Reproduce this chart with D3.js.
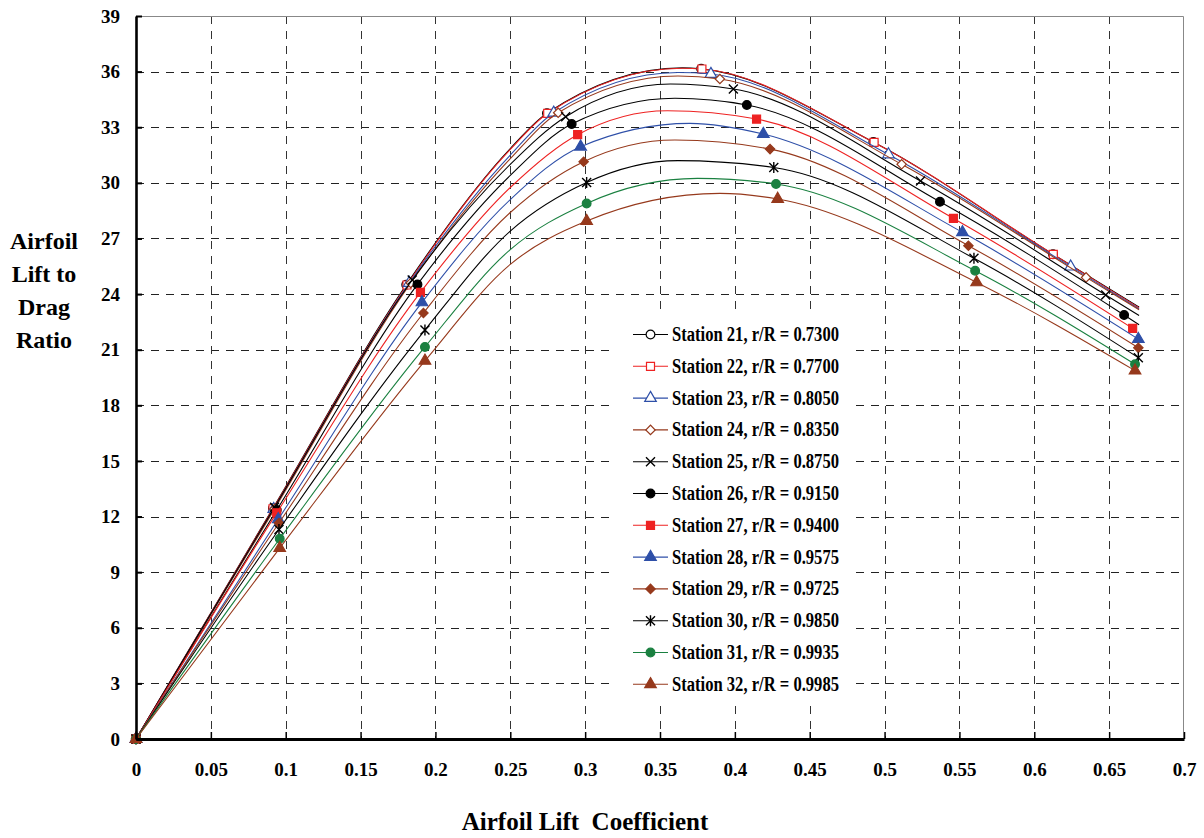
<!DOCTYPE html>
<html lang="en">
<head>
<meta charset="utf-8">
<style type="text/css">
    body { margin: 0; background: #fff; }
    .tick_text { font-family: "Times New Roman", "Liberation Serif", serif; font-weight: bold; font-size: 19px; fill: #000; }
    .title_text { font-family: "Times New Roman", "Liberation Serif", serif; font-weight: bold; font-size: 24px; fill: #000; }
    .legend_text { font-family: "Times New Roman", "Liberation Serif", serif; font-weight: bold; font-size: 20px; fill: #000; }
</style>
</head>
<body>
<div id="chart"></div>
<script src="https://cdn.jsdelivr.net/npm/d3@7"></script>
<script type="text/javascript">
// stations shown in the legend
var stations = ["Station 21, r/R = 0.7300", "Station 22, r/R = 0.7700", "Station 23, r/R = 0.8050",
    "Station 24, r/R = 0.8350", "Station 25, r/R = 0.8750", "Station 26, r/R = 0.9150",
    "Station 27, r/R = 0.9400", "Station 28, r/R = 0.9575", "Station 29, r/R = 0.9725",
    "Station 30, r/R = 0.9850", "Station 31, r/R = 0.9935", "Station 32, r/R = 0.9985"];

// marked points: lift coefficient (x) and lift to drag ratio (y)
var markCl = [
    [0, 0.0915, 0.1805, 0.2745, 0.3775, 0.4925, 0.6125],
    [0, 0.0915, 0.181, 0.275, 0.378, 0.493, 0.6127],
    [0, 0.092, 0.1825, 0.279, 0.384, 0.5026, 0.6243],
    [0, 0.0925, 0.1835, 0.282, 0.39, 0.5114, 0.6346],
    [0, 0.0925, 0.1845, 0.287, 0.399, 0.524, 0.6477],
    [0, 0.094, 0.188, 0.291, 0.408, 0.537, 0.66],
    [0, 0.094, 0.19, 0.295, 0.4145, 0.546, 0.6657],
    [0, 0.095, 0.191, 0.297, 0.419, 0.552, 0.6695],
    [0, 0.0955, 0.192, 0.299, 0.4235, 0.556, 0.6695],
    [0, 0.0955, 0.193, 0.301, 0.426, 0.5597, 0.6695],
    [0, 0.096, 0.193, 0.301, 0.4275, 0.5605, 0.6673],
    [0, 0.096, 0.193, 0.301, 0.4286, 0.5615, 0.6673]];
var markLd = [
    [0, 12.45, 24.5, 33.75, 36.15, 32.2, 26.15],
    [0, 12.42, 24.49, 33.75, 36.14, 32.18, 26.14],
    [0, 12.4, 24.6, 33.78, 35.87, 31.53, 25.48],
    [0, 12.4, 24.6, 33.78, 35.6, 31.0, 24.9],
    [0, 12.5, 24.76, 33.57, 35.06, 30.1, 23.95],
    [0, 12.35, 24.52, 33.17, 34.2, 28.98, 22.87],
    [0, 12.2, 24.09, 32.6, 33.44, 28.08, 22.15],
    [0, 11.85, 23.55, 31.95, 32.63, 27.33, 21.57],
    [0, 11.65, 22.98, 31.14, 31.82, 26.61, 21.1],
    [0, 11.3, 22.06, 30.02, 30.83, 25.93, 20.57],
    [0, 10.8, 21.15, 28.89, 29.94, 25.26, 20.21],
    [0, 10.3, 20.4, 27.94, 29.13, 24.63, 19.87]];

// unmarked points on the curves (mid rise, peak, end)
var curveCl = [
    [0.25, 0.365, 0.67], [0.25, 0.365, 0.67], [0.25, 0.362, 0.67], [0.25, 0.362, 0.67],
    [0.25, 0.357, 0.67], [0.25, 0.36, 0.67], [0.25, 0.355], [0.25, 0.37],
    [0.25, 0.36], [0.25, 0.362], [0.25, 0.375], [0.25, 0.39]];
var curveLd = [
    [31.85, 36.2, 23.3], [31.8, 36.18, 23.25], [31.5, 35.95, 23.2], [31.3, 35.76, 23.15],
    [31.0, 35.33, 22.84], [30.4, 34.56, 22.35], [29.75, 33.89], [29.1, 33.21],
    [28.4, 32.31], [27.4, 31.2], [26.4, 30.24], [25.6, 29.43]];

var xTicks = [0, 0.05, 0.1, 0.15, 0.2, 0.25, 0.3, 0.35, 0.4, 0.45, 0.5, 0.55, 0.6, 0.65, 0.7];
var yTicks = [0, 3, 6, 9, 12, 15, 18, 21, 24, 27, 30, 33, 36, 39];

var colors = ["#000000", "#EE2222", "#2E4FA8", "#96391C", "#000000", "#000000",
    "#EE2222", "#2E4FA8", "#96391C", "#000000", "#1A8040", "#96391C"];
var shapes = ["circle", "square", "triangle", "diamond", "x", "circle",
    "square", "triangle", "diamond", "star", "circle", "triangle"];
var hollow = [true, true, true, true, false, false, false, false, false, false, false, false];

var W = 1204, H = 838;
var plotL = 136, plotR = 1184, plotT = 16, plotB = 739;

var svg = d3.select("#chart").append("svg")
    .attr("width", W).attr("height", H);

var x = d3.scaleLinear().domain([0, 0.7]).range([plotL, plotR]);
var y = d3.scaleLinear().domain([0, 39]).range([plotB, plotT]);

// grid
svg.append("g").selectAll("line")
    .data(yTicks.filter(function(d){ return d > 0 && d < 39; }))
    .enter().append("line")
    .attr("x1", plotL).attr("x2", plotR)
    .attr("y1", function(d){ return Math.round(y(d)) + 0.5; }).attr("y2", function(d){ return Math.round(y(d)) + 0.5; })
    .attr("stroke", "#222").attr("stroke-dasharray", "8,7");
svg.append("g").selectAll("line")
    .data(xTicks.filter(function(d){ return d > 0 && d < 0.7; }))
    .enter().append("line")
    .attr("y1", plotT).attr("y2", plotB)
    .attr("x1", function(d){ return Math.round(x(d)) + 0.5; }).attr("x2", function(d){ return Math.round(x(d)) + 0.5; })
    .attr("stroke", "#333").attr("stroke-dasharray", "8,7");
// top and right border
svg.append("path")
    .attr("d", "M" + plotL + "," + (plotT + 0.5) + "H" + (plotR - 0.5) + "V" + plotB)
    .attr("fill", "none").attr("stroke", "#888").attr("stroke-width", 1);

// legend background hides the grid
var legX = 612, legY = 314;
svg.append("rect").attr("x", legX).attr("y", legY).attr("width", 243).attr("height", 392)
    .attr("fill", "#fff");

function markerPath(shape) {
    if (shape == "circle") return d3.symbol(d3.symbolCircle, 60)();
    if (shape == "square") return d3.symbol(d3.symbolSquare, 64)();
    if (shape == "triangle") return d3.symbol(d3.symbolTriangle, 58)();
    if (shape == "diamond") return d3.symbol(d3.symbolSquare, 44)();
    var r = 4.5;
    if (shape == "x") return "M" + -r + "," + -r + "L" + r + "," + r + "M" + -r + "," + r + "L" + r + "," + -r;
    // star
    return "M" + -r + "," + -r + "L" + r + "," + r + "M" + -r + "," + r + "L" + r + "," + -r + "M0," + -5.5 + "L0,5.5";
}

function drawMarker(g, i) {
    var s = shapes[i];
    var p = g.append("path")
        .attr("d", markerPath(s))
        .attr("stroke", colors[i])
        .attr("stroke-width", s == "x" || s == "star" ? 1.4 : 1.2);
    if (s == "diamond") p.attr("transform", "rotate(45)");
    if (s == "x" || s == "star") p.attr("fill", "none");
    else p.attr("fill", hollow[i] ? "#fff" : colors[i]);
    return p;
}

var line = d3.line()
    .x(function(d){ return x(d[0]); })
    .y(function(d){ return y(d[1]); })
    .curve(d3.curveMonotoneX);

stations.forEach(function(name, i) {
    var pts = [];
    markCl[i].forEach(function(c, j){ pts.push([c, markLd[i][j]]); });
    curveCl[i].forEach(function(c, j){ pts.push([c, curveLd[i][j]]); });
    pts.sort(function(a, b){ return a[0] - b[0]; });

    var g = svg.append("g").attr("class", "series");
    g.append("path")
        .datum(pts)
        .attr("d", line)
        .attr("fill", "none")
        .attr("stroke", colors[i])
        .attr("stroke-width", 1.1);

    markCl[i].forEach(function(c, j) {
        var m = g.append("g").attr("transform", "translate(" + x(c) + "," + y(markLd[i][j]) + ")");
        drawMarker(m, i);
    });
});

// axes
var yAxis = d3.axisLeft(y).tickValues(yTicks).tickSizeInner(-6).tickSizeOuter(0).tickPadding(16)
    .tickFormat(function(d){ return d; });
var gy = svg.append("g").attr("transform", "translate(" + plotL + ",0)").call(yAxis);
gy.select(".domain").attr("stroke", "#000").attr("stroke-width", 2.6);
gy.selectAll(".tick line").attr("stroke", "#000").attr("stroke-width", 2);
gy.selectAll(".tick text").attr("class", "tick_text").attr("font-size", null).attr("font-family", null);

var xAxis = d3.axisBottom(x).tickValues(xTicks).tickSizeInner(-7).tickSizeOuter(0).tickPadding(24)
    .tickFormat(function(d){ return String(d); });
var gx = svg.append("g").attr("transform", "translate(0," + plotB + ")").call(xAxis);
gx.select(".domain").attr("stroke", "#000").attr("stroke-width", 2.8);
gx.selectAll(".tick line").attr("stroke", "#000").attr("stroke-width", 1.5);
gx.selectAll(".tick text").attr("class", "tick_text").attr("font-size", null).attr("font-family", null);

// titles
svg.append("text").attr("class", "title_text")
    .attr("x", 585).attr("y", 830).attr("text-anchor", "middle")
    .style("font-size", "25px")
    .attr("xml:space", "preserve")
    .text("Airfoil Lift  Coefficient");
var yTitle = ["Airfoil", "Lift to", "Drag", "Ratio"];
svg.append("g").selectAll("text")
    .data(yTitle).enter().append("text")
    .attr("class", "title_text")
    .attr("x", 44).attr("y", function(d, i){ return 249 + i * 33; })
    .attr("text-anchor", "middle")
    .text(function(d){ return d; });

// legend
var leg = svg.append("g").selectAll("g")
    .data(stations).enter().append("g")
    .attr("transform", function(d, i){ return "translate(0," + (334.5 + i * 31.8) + ")"; });
leg.append("line").attr("x1", 633).attr("x2", 668)
    .attr("stroke", function(d, i){ return colors[i]; }).attr("stroke-width", 1.1);
leg.each(function(d, i) {
    var m = d3.select(this).append("g").attr("transform", "translate(650.5,0)");
    drawMarker(m, i);
});
leg.append("text").attr("class", "legend_text")
    .attr("x", 672).attr("y", 6.5)
    .attr("textLength", 167).attr("lengthAdjust", "spacingAndGlyphs")
    .text(function(d){ return d; });
</script>
</body>
</html>
